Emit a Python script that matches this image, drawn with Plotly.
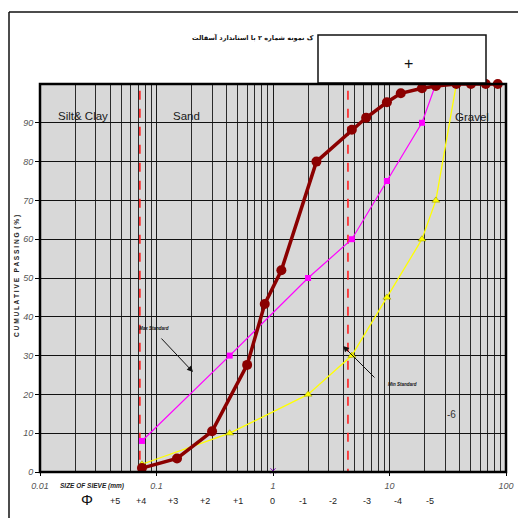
import plotly.graph_objects as go

# ---- data ----
sieve_mm = [0.075, 0.15, 0.3, 0.6, 0.85, 1.18, 2.36, 4.75, 6.3, 9.5, 12.5, 19, 25, 37.5, 50, 67, 85]
sample_pass = [1.0, 3.5, 10.5, 27.6, 43.3, 52, 80, 88.2, 91.3, 95.3, 97.6, 98.9, 99.5, 100, 100, 100, 100]

max_mm = [0.075, 0.425, 2.0, 4.75, 9.5, 19, 25, 37.5]
max_pass = [8, 30, 50, 60, 75, 90, 100, 100]

min_mm = [0.075, 0.425, 2.0, 4.75, 9.5, 19, 25, 37.5]
min_pass = [2, 10, 20, 30, 45, 60, 70, 100]

boundaries_mm = [0.072, 4.4]

x_tickvals = [0.01, 0.1, 1, 10, 100]
x_ticktext = ["0.01", "0.1", "1", "10", "100"]
y_tickvals = [0, 10, 20, 30, 40, 50, 60, 70, 80, 90]

phi_labels = ["+5", "+4", "+3", "+2", "+1", "0", "-1", "-2", "-3", "-4", "-5"]
phi_px = [115, 141, 173, 205, 238, 272, 303, 333, 367, 398, 430]

# ---- layout geometry (pixels) ----
L, R, T, B = 40, 506, 84, 472
W = R - L
H = B - T


def px2paper_x(px):
    return (px - L) / W


def px2paper_y(py):
    return (B - py) / H


fig = go.Figure()

for b in boundaries_mm:
    fig.add_trace(go.Scatter(x=[b, b], y=[-1.5, 100], mode="lines",
                             line=dict(color="#ff2020", width=1.6, dash="dash"),
                             hoverinfo="skip", showlegend=False, cliponaxis=False))

fig.add_trace(go.Scatter(x=max_mm, y=max_pass, mode="lines+markers",
                         line=dict(color="#ff00ff", width=1.2),
                         marker=dict(symbol="square", size=6, color="#ff00ff"),
                         showlegend=False, cliponaxis=False))
fig.add_trace(go.Scatter(x=min_mm, y=min_pass, mode="lines+markers",
                         line=dict(color="#ffff00", width=1.3),
                         marker=dict(symbol="triangle-up", size=7, color="#ffff00",
                                     line=dict(color="#8a8a00", width=0.5)),
                         showlegend=False, cliponaxis=False))
fig.add_trace(go.Scatter(x=sieve_mm, y=sample_pass, mode="lines+markers",
                         line=dict(color="#8b0000", width=3.5),
                         marker=dict(symbol="circle", size=10, color="#8b0000"),
                         showlegend=False, cliponaxis=False))
fig.add_trace(go.Scatter(x=[1], y=[0.3], mode="markers",
                         marker=dict(symbol="x-thin", size=5, color="#8000c0",
                                     line=dict(color="#8000c0", width=1)),
                         showlegend=False, cliponaxis=False))

narrow = "Liberation Sans Narrow, Arial Narrow, Liberation Sans, sans-serif"
ann = []


def add_text(txt, px, py, size, family=narrow, color="#222", **kw):
    d = dict(text=txt, x=px2paper_x(px), y=px2paper_y(py), xref="paper", yref="paper",
             xanchor="center", yanchor="middle", showarrow=False,
             font=dict(family=family, size=size, color=color))
    d.update(kw)
    ann.append(d)


# region labels
add_text("Silt& Clay", 83, 116, 11.5, color="#1a1a1a")
add_text("Sand", 186, 116, 11.5, color="#1a1a1a")
add_text("Gravel", 472, 117, 11.5, color="#1a1a1a")
add_text("-6", 451, 414, 10, color="#333")

# standard arrows
ann.append(dict(text="", x=px2paper_x(193), y=px2paper_y(372), xref="paper", yref="paper",
                xanchor="center", yanchor="middle",
                ax=160 - 193, ay=337 - 372, showarrow=True, arrowhead=2, arrowsize=1.2,
                arrowwidth=1, arrowcolor="#111"))
add_text("<i><b>Max Standard</b></i>", 154, 328, 4.5, color="#111")
ann.append(dict(text="", x=px2paper_x(343), y=px2paper_y(346), xref="paper", yref="paper",
                xanchor="center", yanchor="middle",
                ax=376 - 343, ay=379 - 346, showarrow=True, arrowhead=2, arrowsize=1.2,
                arrowwidth=1, arrowcolor="#111"))
add_text("<i><b>Min Standard</b></i>", 402, 384, 4.5, color="#111")

# axis titles
add_text("<b>C U M U L A T I V E   P A S S I N G  ( % )</b>", 17, 276, 6.6,
         family="Liberation Sans, sans-serif", textangle=-90)
add_text("<i><b>SIZE OF SIEVE (mm)</b></i>", 92, 486, 6.5)
add_text("Φ", 87, 499, 15, family="Liberation Sans, sans-serif", color="#111")
for t, p in zip(phi_labels, phi_px):
    add_text(t, p, 501, 9, family="Liberation Sans, sans-serif")

# title
add_text("<b>ک نمونه شماره ۲ با استاندارد آسفالت</b>", 316, 38, 6.5,
         family="DejaVu Sans, sans-serif", color="#111")
ann[-1]["xanchor"] = "right"
add_text("+", 408, 64, 16, family="Liberation Sans, sans-serif", color="#111")

shapes = [
    # page border
    dict(type="line", xref="paper", yref="paper", x0=px2paper_x(9), x1=px2paper_x(9),
         y0=px2paper_y(12), y1=px2paper_y(520), line=dict(color="#111", width=1.5)),
    dict(type="line", xref="paper", yref="paper", x0=px2paper_x(9), x1=px2paper_x(520),
         y0=px2paper_y(12), y1=px2paper_y(12), line=dict(color="#111", width=1.5)),
    # white box
    dict(type="rect", xref="paper", yref="paper", x0=px2paper_x(318), x1=px2paper_x(486),
         y0=px2paper_y(83), y1=px2paper_y(35), fillcolor="white", line=dict(color="#111", width=1.5)),
    # plot frame
    dict(type="rect", xref="paper", yref="paper", x0=0, x1=1, y0=0, y1=1,
         line=dict(color="#000", width=2.5), layer="above"),
]

fig.update_layout(
    width=518, height=518,
    margin=dict(l=L, r=518 - R, t=T, b=518 - B),
    paper_bgcolor="white", plot_bgcolor="#d8d8d8",
    annotations=ann, shapes=shapes, showlegend=False,
    xaxis=dict(type="log", range=[-2, 2], tickvals=x_tickvals, ticktext=x_ticktext,
               showgrid=True, gridcolor="#1a1a1a", gridwidth=1,
               minor=dict(dtick="D1", showgrid=True, gridcolor="#2a2a2a", gridwidth=1,
                          ticks=""),
               ticks="outside", ticklen=3, tickcolor="#000", ticklabelstandoff=2,
               tickfont=dict(family=narrow, size=9, color="#555", style="italic"),
               zeroline=False, showline=False, automargin=False),
    yaxis=dict(range=[0, 100], tickvals=y_tickvals, showgrid=True, gridcolor="#111", gridwidth=1,
               ticks="outside", ticklen=4, tickcolor="#000",
               tickfont=dict(family=narrow, size=9, color="#555", style="italic"),
               zeroline=False, showline=False, automargin=False),
)

fig.write_html("out.html")
